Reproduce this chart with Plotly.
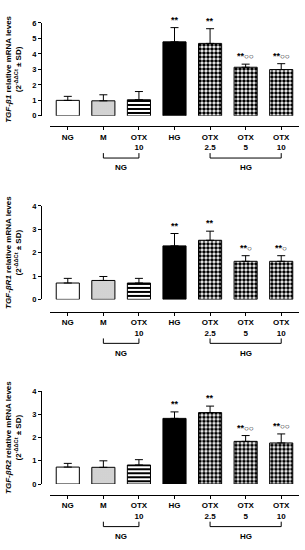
import plotly.graph_objects as go

# ---------------- data ----------------
tick_labels = ["NG", "M", "OTX<br>10", "HG", "OTX<br>2.5", "OTX<br>5", "OTX<br>10"]

tgfb1_mean = [1.00, 0.97, 1.04, 4.78, 4.68, 3.14, 2.99]
tgfb1_sd = [0.26, 0.39, 0.53, 0.92, 0.95, 0.20, 0.38]
tgfb1_stars = ["", "", "", "**", "**", "**", "**"]
tgfb1_circles = ["", "", "", "", "", "○○", "○○"]

tgfbr1_mean = [0.70, 0.81, 0.70, 2.29, 2.53, 1.63, 1.63]
tgfbr1_sd = [0.20, 0.17, 0.20, 0.53, 0.39, 0.24, 0.24]
tgfbr1_stars = ["", "", "", "**", "**", "**", "**"]
tgfbr1_circles = ["", "", "", "", "", "○", "○"]

tgfbr2_mean = [0.73, 0.72, 0.82, 2.83, 3.08, 1.84, 1.77]
tgfbr2_sd = [0.16, 0.28, 0.23, 0.28, 0.28, 0.25, 0.39]
tgfbr2_stars = ["", "", "", "**", "**", "**", "**"]
tgfbr2_circles = ["", "", "", "", "", "○○", "○○"]

gene_labels = ["TGF-β1", "TGF-βR1", "TGF-βR2"]
y_max = [6, 4, 4]

group_labels = ["NG", "HG"]
group_spans = [(1, 2), (4, 6)]

# ---------------- styling ----------------
W, H = 305, 550
FONT = "Liberation Sans"

def py(px):
    return 1 - px / H

def pxx(px):
    return px / W

# per panel: (y at top of axis, y at zero, x-axis line) in pixels
panel_px = [(19.3, 113.7, 124.3), (205.3, 300.3, 312.7), (393.7, 488.0, 499.0)]

checker = dict(shape=".", size=4, solidity=0.62, fgcolor="black",
               bgcolor="white", fillmode="replace")
bar_styles = [
    dict(color="white"),
    dict(color="#eeeeee", pattern=dict(shape=".", size=2, solidity=0.35,
                                       fgcolor="#999999", bgcolor="#f2f2f2", fillmode="replace")),
    dict(color="white", pattern=dict(shape="-", size=4, solidity=0.5,
                                     fgcolor="black", bgcolor="white", fillmode="replace")),
    dict(color="black"),
    dict(color="white", pattern=checker),
    dict(color="white", pattern=checker),
    dict(color="white", pattern=checker),
]

means = [tgfb1_mean, tgfbr1_mean, tgfbr2_mean]
sds = [tgfb1_sd, tgfbr1_sd, tgfbr2_sd]
stars = [tgfb1_stars, tgfbr1_stars, tgfbr2_stars]
circles = [tgfb1_circles, tgfbr1_circles, tgfbr2_circles]

xs = list(range(len(tick_labels)))

fig = go.Figure()
annotations = []
shapes = []
layout_axes = {}

for p in range(3):
    sfx = "" if p == 0 else str(p + 1)
    xa, ya = "x" + sfx, "y" + sfx
    top, zero, xline = panel_px[p]

    for i in xs:
        marker = dict(bar_styles[i])
        marker["line"] = dict(color="black", width=1)
        fig.add_trace(go.Bar(
            x=[xs[i]], y=[means[p][i]], xaxis=xa, yaxis=ya, width=0.65,
            marker=marker,
            error_y=dict(type="data", array=[sds[p][i]], arrayminus=[0],
                         symmetric=False, color="black", thickness=1, width=4),
            showlegend=False, hoverinfo="skip",
        ))

    layout_axes["xaxis" + sfx] = dict(
        domain=[pxx(50), pxx(299)], range=[-0.5, len(xs) - 0.5],
        anchor="free", position=py(xline),
        tickvals=xs, ticktext=tick_labels,
        showline=True, linecolor="black", linewidth=1,
        ticks="outside", ticklen=3, tickwidth=1, tickcolor="black",
        tickfont=dict(family=FONT, size=8, color="black", weight="bold"),
        showgrid=False, zeroline=False, fixedrange=True,
    )
    layout_axes["yaxis" + sfx] = dict(
        domain=[py(zero), py(top)], range=[0, y_max[p]], dtick=1,
        anchor="free", position=pxx(41),
        showline=True, linecolor="black", linewidth=1,
        ticks="outside", ticklen=3, tickwidth=1, tickcolor="black",
        tickfont=dict(family=FONT, size=7.5, color="black", weight="bold"),
        showgrid=False, zeroline=False, fixedrange=True,
        title=dict(
            text="<b><i>" + gene_labels[p] + "</i> relative mRNA leves</b><br>"
                 "<b>(2<sup>-ΔΔCt</sup>\u00a0±\u00a0SD)</b>",
            font=dict(family=FONT, size=8, color="black"),
            standoff=8,
        ),
    )

    # significance marks
    for i in xs:
        s, c = stars[p][i], circles[p][i]
        if s or c:
            txt = "<b>" + s + "</b>"
            if c:
                txt += "<span style='font-size:8px'>" + c + "</span>"
            annotations.append(dict(
                x=xs[i], y=means[p][i] + sds[p][i], xref=xa, yref=ya,
                text=txt, showarrow=False, yanchor="bottom",
                yshift=1, font=dict(family=FONT, size=9, color="black"),
            ))

    # group brackets
    by = py(xline + 32.3)
    for lbl, (a, b) in zip(group_labels, group_spans):
        shapes.append(dict(type="line", xref=xa, yref="paper",
                           x0=xs[a], x1=xs[b], y0=by, y1=by,
                           line=dict(color="black", width=1)))
        for e in (a, b):
            shapes.append(dict(type="line", xref=xa, yref="paper",
                               x0=xs[e], x1=xs[e], y0=by, y1=by + 5 / H,
                               line=dict(color="black", width=1)))
        annotations.append(dict(
            x=(xs[a] + xs[b]) / 2, y=py(xline + 42.4), xref=xa, yref="paper",
            text=lbl, showarrow=False, xanchor="center", yanchor="middle",
            font=dict(family=FONT, size=8, color="black", weight="bold"),
        ))

fig.update_layout(
    width=W, height=H,
    margin=dict(l=0, r=0, t=0, b=0),
    paper_bgcolor="white", plot_bgcolor="white",
    showlegend=False, barmode="overlay",
    annotations=annotations, shapes=shapes,
    **layout_axes,
)

fig.write_html(
    "out.html",
    config={"displayModeBar": False},
    post_script="document.body.style.margin='0';document.body.style.overflow='hidden';",
)
